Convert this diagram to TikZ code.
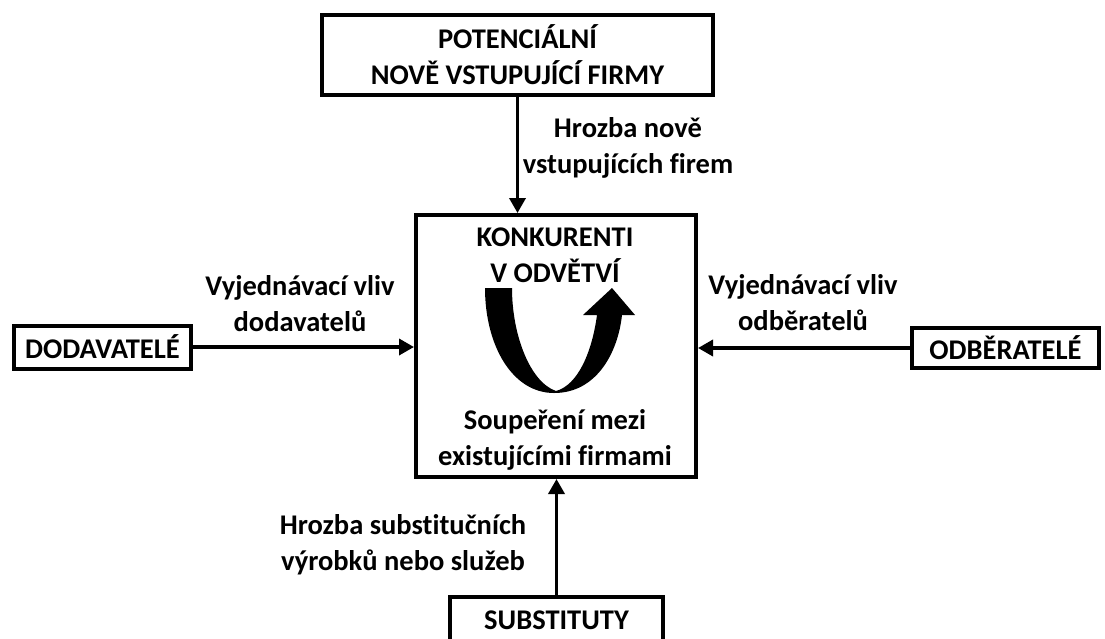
\documentclass[tikz,border=0pt]{standalone}
\usepackage{fontspec}
\setmainfont[Ligatures=CommonOff]{Carlito}
\usetikzlibrary{arrows.meta}

\begin{document}
\begin{tikzpicture}[
        x=1pt, y=-1pt,
        every node/.style={
            align=center,
            font=\bfseries\fontsize{28.5}{36}\selectfont
        },
        block/.style={
            rectangle,
            draw=black,
            line width=4pt,
            inner sep=0pt
        },
        arrow/.style={line width=3.5pt,-{Triangle[length=15pt,width=16pt]}}
    ]

    \useasboundingbox (0,0) rectangle (1105,638);

    % Nodes
    \node (entrants) [block, minimum width=391pt, minimum height=80pt] at (517.5,55) {POTENCIÁLNÍ\\NOVĚ VSTUPUJÍCÍ FIRMY};

    \node (rival) [block, minimum width=280pt, minimum height=262pt] at (556,346) {};

    \node (suppliers) [block, minimum width=177pt, minimum height=43pt] at (102.5,347) {DODAVATELÉ};

    \node (buyers) [block, minimum width=187pt, minimum height=40pt] at (1005.5,348) {ODBĚRATELÉ};

    \node (subst) [block, minimum width=213pt, minimum height=46pt] at (556.5,620) {SUBSTITUTY};

    \node (konk) at (555,255) {KONKURENTI\\V ODVĚTVÍ};

    \node (soup) at (555,440) {Soupeření mezi\\existujícími firmami};

    % Labels
    \node (threatnew) at (628,148) {Hrozba nově\\vstupujících firem};

    \node (supplab) at (300,304) {Vyjednávací vliv\\dodavatelů};

    \node (buylab) at (803,303) {Vyjednávací vliv\\odběratelů};

    \node (threatsub) at (403,545) {Hrozba substitučních\\výrobků nebo služeb};

    % Curved arrow
    \fill (485,288) .. controls (485,345) and (512,393) .. (554,393)
        .. controls (597,393) and (618,352) .. (622,315)
        -- (635,315) -- (612,288) -- (583,315) -- (597,315)
        .. controls (592,352) and (578,385) .. (556,391)
        .. controls (530,382) and (512,335) .. (512,288) -- cycle;

    % Arrows
    \draw[arrow] (entrants.south) -- (entrants.south |- rival.north);
    \draw[arrow] (suppliers.east) -- (suppliers.east -| rival.west);
    \draw[arrow] (buyers.west) -- (buyers.west -| rival.east);
    \draw[arrow] (subst.north) -- (subst.north |- rival.south);

\end{tikzpicture}
\end{document}
